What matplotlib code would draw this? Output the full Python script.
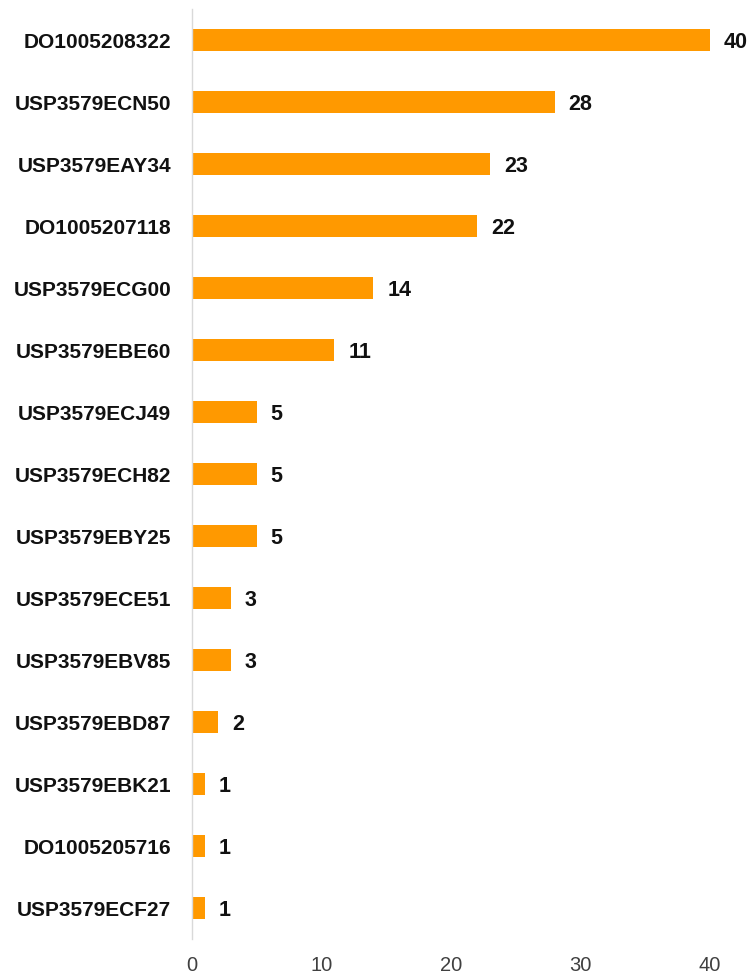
import matplotlib
matplotlib.use("Agg")
import matplotlib.pyplot as plt

categories = ["DO1005208322", "USP3579ECN50", "USP3579EAY34", "DO1005207118",
              "USP3579ECG00", "USP3579EBE60", "USP3579ECJ49", "USP3579ECH82",
              "USP3579EBY25", "USP3579ECE51", "USP3579EBV85", "USP3579EBD87",
              "USP3579EBK21", "DO1005205716", "USP3579ECF27"]
values = [40, 28, 23, 22, 14, 11, 5, 5, 5, 3, 3, 2, 1, 1, 1]
xticks = [0, 10, 20, 30, 40]

plt.rcParams['font.family'] = ['Liberation Sans', 'DejaVu Sans']

fig = plt.figure(figsize=(7.53, 9.77), dpi=100)
ax = fig.add_axes([192/753, 1-939/977, (710-192)/753, (939-9)/977])

n = len(categories)
ypos = list(range(n))
ax.barh(ypos, values, height=0.36, color="#FF9900")
ax.set_ylim(n - 0.5, -0.5)
ax.set_xlim(0, 40)
ax.set_yticks(ypos)
ax.set_yticklabels(categories, fontsize=15, fontweight='bold', color='#111111')
ax.set_xticks(xticks)
ax.set_xticklabels([str(t) for t in xticks], fontsize=14.5, color='#404040')
ax.tick_params(axis='both', length=0)
ax.tick_params(axis='y', pad=15)
ax.tick_params(axis='x', pad=12)
for s in ['top', 'right', 'bottom']:
    ax.spines[s].set_visible(False)
ax.spines['left'].set_color('#d9d9d9')
ax.spines['left'].set_linewidth(1)

for y, v in zip(ypos, values):
    ax.annotate(str(v), (v, y), xytext=(14, -2), textcoords='offset pixels',
                va='center', ha='left', fontsize=15.5, fontweight='bold', color='#111111',
                annotation_clip=False)

fig.savefig("out.png", dpi=100)
